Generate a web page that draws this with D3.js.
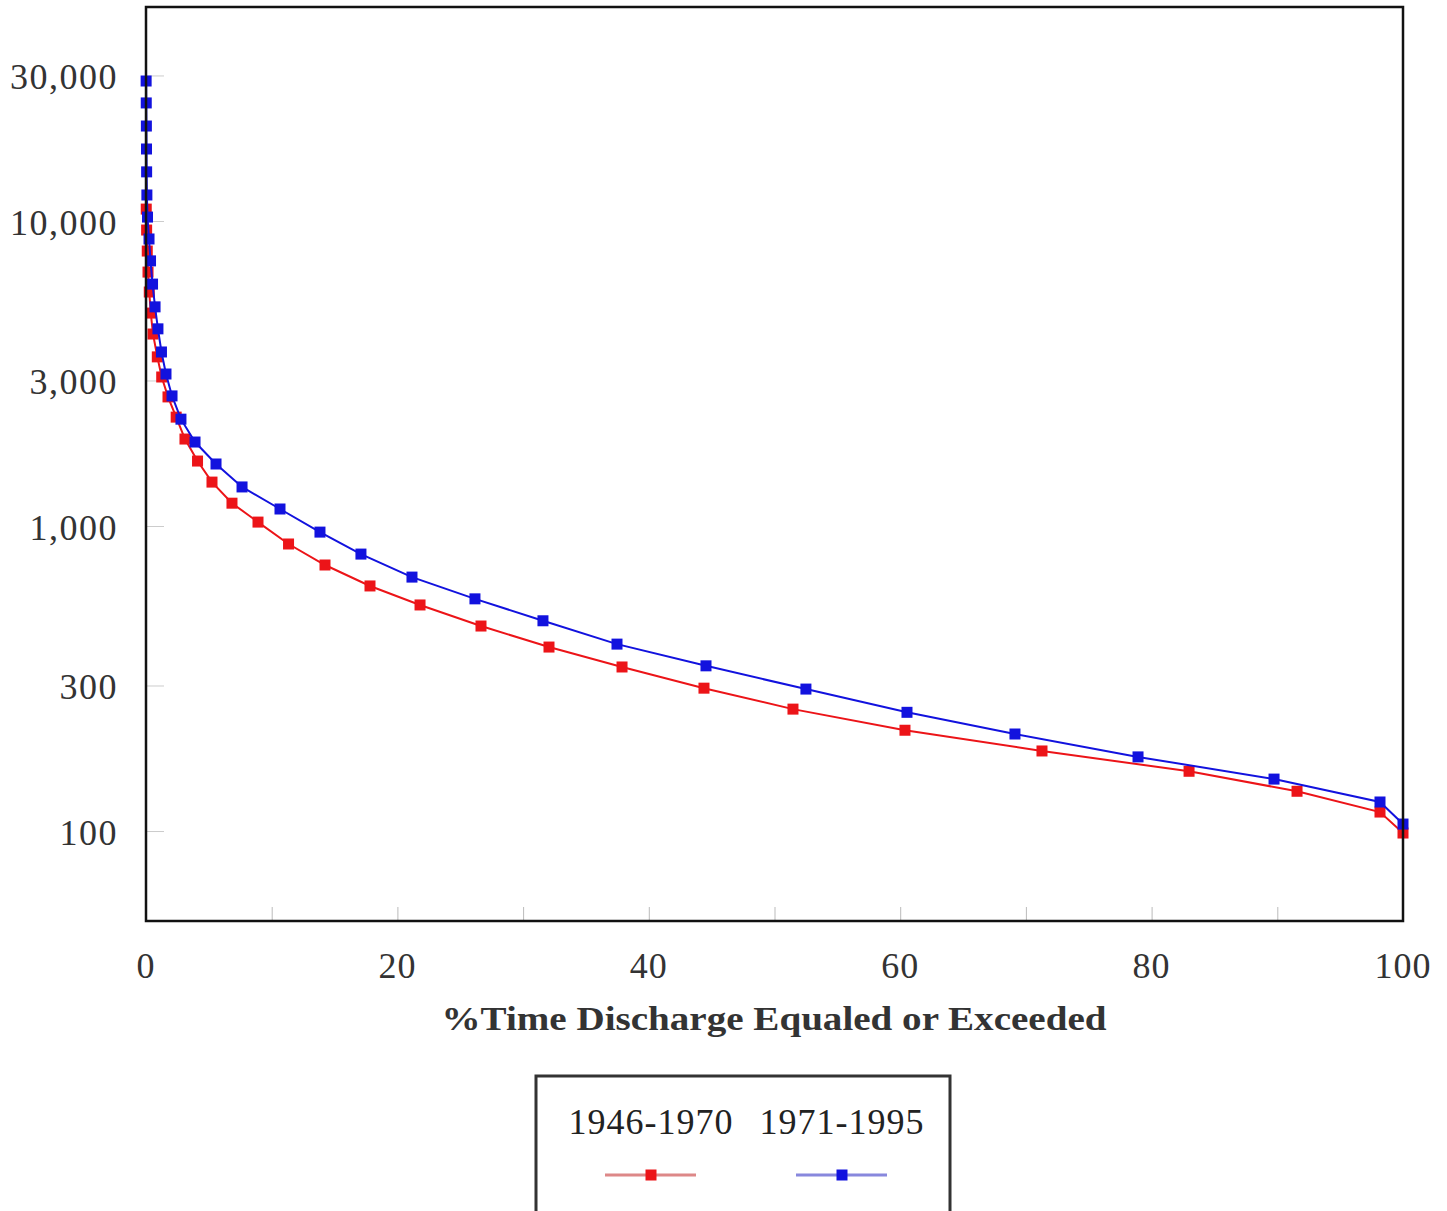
<!DOCTYPE html>
<html><head><meta charset="utf-8">
<script src="https://cdn.jsdelivr.net/npm/d3@7"></script>
<style>body{margin:0;background:#fff;}svg{display:block;}</style>
</head><body>
<script>
// ---- data ----
const seriesNames = ["1946-1970", "1971-1995"];
const seriesColors = ["#ec1418", "#1212de"];
const legendLineColors = ["#dd8888", "#8888dd"];
// % time discharge equaled or exceeded
const pct1946 = [0.02,0.05,0.1,0.16,0.26,0.38,0.56,0.9,1.25,1.75,2.4,3.1,4.1,5.25,6.84,8.91,11.34,14.24,17.82,21.8,26.65,32.06,37.87,44.39,51.47,60.38,71.28,82.98,91.57,98.17,100];
const q1946 = [10940,9340,7970,6800,5850,4990,4260,3585,3080,2650,2275,1928,1633,1393,1188,1030,873,745,636,551,470,401,345,294,251,214,183,157,135,115.4,98.5];
const pct1971 = [0.01,0.02,0.03,0.04,0.05,0.07,0.12,0.24,0.36,0.52,0.72,0.95,1.23,1.59,2.07,2.78,3.9,5.57,7.64,10.66,13.84,17.1,21.16,26.17,31.58,37.47,44.55,52.5,60.54,69.13,78.92,89.74,98.17,100];
const q1971 = [28770,24380,20480,17220,14490,12170,10300,8730,7400,6210,5230,4430,3720,3150,2670,2240,1885,1597,1343,1137,955,809,680,577,489,410,348,292,245,208,175,148,124.5,105.4];
const xTicks = [0,10,20,30,40,50,60,70,80,90,100];
const xTickLabels = [0,20,40,60,80,100];
const yTicks = [100,300,1000,3000,10000,30000];
const xTitle = "%Time Discharge Equaled or Exceeded";

const W = 1447, H = 1211;
const svg = d3.select("body").append("svg").attr("width", W).attr("height", H);
const L = 146, R = 1403, T = 7, B = 921;
const x = d3.scaleLinear().domain([0,100]).range([L,R]);
const y = d3.scaleLog().domain([50.7, 50300]).range([B,T]);
const font = "'Liberation Serif','Times New Roman',serif";

// ticks (inside)
const xAxis = d3.axisBottom(x).tickValues(xTicks).tickSize(-14).tickFormat("");
svg.append("g").attr("transform",`translate(0,${B})`).call(xAxis)
  .call(g=>{g.select(".domain").remove(); g.selectAll("line").attr("stroke","#bbb").attr("stroke-width",1);});
const yAxis = d3.axisLeft(y).tickValues(yTicks).tickSize(-18).tickFormat("");
svg.append("g").attr("transform",`translate(${L},0)`).call(yAxis)
  .call(g=>{g.select(".domain").remove(); g.selectAll("line").attr("stroke","#ccc").attr("stroke-width",1);});

// tick labels
svg.append("g").selectAll("text").data(xTickLabels).join("text")
  .attr("x", d=>x(d)).attr("y", 978).attr("text-anchor","middle")
  .attr("font-family",font).attr("font-size",36).attr("letter-spacing","1px").attr("fill","#333")
  .text(d=>d);
svg.append("g").selectAll("text").data(yTicks).join("text")
  .attr("x", 118).attr("y", d=>y(d)+14).attr("text-anchor","end")
  .attr("font-family",font).attr("font-size",36).attr("letter-spacing","1.5px").attr("fill","#333")
  .text(d=>d3.format(",")(d));

// title
svg.append("text").attr("x",774).attr("y",1030).attr("text-anchor","middle")
  .attr("font-family",font).attr("font-weight","bold").attr("font-size",34).attr("fill","#333")
  .attr("textLength",665).attr("lengthAdjust","spacingAndGlyphs")
  .text(xTitle);

// series
const series = [
  {name:seriesNames[0], color:seriesColors[0], pts:pct1946.map((p,i)=>[p,q1946[i]])},
  {name:seriesNames[1], color:seriesColors[1], pts:pct1971.map((p,i)=>[p,q1971[i]])}
];
const line = d3.line().x(d=>x(d[0])).y(d=>y(d[1]));
series.forEach(s=>{
  svg.append("path").attr("d",line(s.pts)).attr("fill","none").attr("stroke",s.color).attr("stroke-width",2);
  svg.append("g").selectAll("rect").data(s.pts).join("rect")
    .attr("x",d=>x(d[0])-5.5).attr("y",d=>y(d[1])-5.5).attr("width",11).attr("height",11)
    .attr("fill",s.color);
});

// frame
svg.append("rect").attr("x",L).attr("y",T).attr("width",R-L).attr("height",B-T)
  .attr("fill","none").attr("stroke","#111").attr("stroke-width",2.5);

// legend
const lg = svg.append("g");
lg.append("rect").attr("x",536).attr("y",1076).attr("width",414).attr("height",150)
  .attr("fill","#fff").attr("stroke","#333").attr("stroke-width",3);
const legX = [651, 842];
seriesNames.forEach((n,i)=>{
  lg.append("text").attr("x",legX[i]).attr("y",1134).attr("text-anchor","middle")
    .attr("font-family",font).attr("font-size",36).attr("letter-spacing","1px").attr("fill","#222").text(n);
  lg.append("line").attr("x1",legX[i]-46).attr("x2",legX[i]+45).attr("y1",1175).attr("y2",1175)
    .attr("stroke",legendLineColors[i]).attr("stroke-width",3);
  lg.append("rect").attr("x",legX[i]-5.5).attr("y",1169.5).attr("width",11).attr("height",11).attr("fill",seriesColors[i]);
});
</script>
</body></html>
